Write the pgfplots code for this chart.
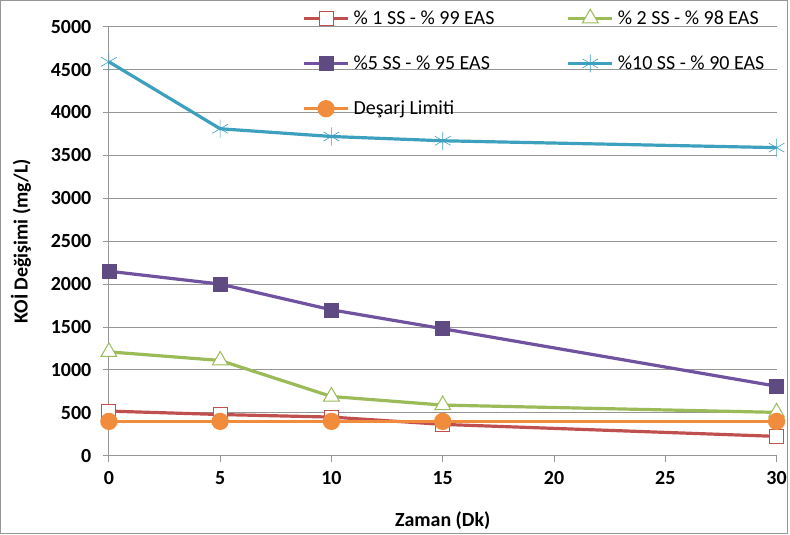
\documentclass[border=0pt]{standalone}
\usepackage{fontspec}
\setmainfont{Carlito}
\usepackage{pgfplots}
\pgfplotsset{compat=1.18}
\definecolor{cred}{RGB}{192,80,77}
\definecolor{cgreen}{RGB}{155,187,89}
\definecolor{cpurple}{RGB}{112,82,160}
\definecolor{cpurplem}{RGB}{96,74,130}
\definecolor{ccyan}{RGB}{60,160,190}
\definecolor{corange}{RGB}{240,140,60}
\definecolor{cgrid}{RGB}{150,150,150}
\begin{document}
\begin{tikzpicture}
\begin{axis}[
  scale only axis,
  width=666bp, height=428bp,
  xmin=0, xmax=30, ymin=0, ymax=5000,
  xtick={0,5,10,15,20,25,30},
  ytick={0,500,...,5000},
  axis x line*=bottom, axis y line*=left,
  axis line style={cgrid, line width=0.8pt},
  tick align=outside,
  major tick length=6bp,
  tick style={cgrid, line width=0.8pt},
  ymajorgrids, grid style={cgrid, line width=0.8pt},
  /pgf/number format/assume math mode=true,
  /pgf/number format/1000 sep={},
  ticklabel style={font=\fontsize{20}{24}\selectfont\bfseries},
  xticklabel style={yshift=-6bp},
  yticklabel style={xshift=-8bp},
  xlabel={\textbf{Zaman (Dk)}},
  ylabel={\textbf{KOİ Değişimi (mg/L)}},
  label style={font=\fontsize{20}{24}\selectfont},
  xlabel style={yshift=-20bp},
  ylabel style={yshift=13bp},
  clip=false,
  legend columns=2,
  legend cell align=left,
  legend style={draw=none, fill=none, at={(rel axis cs:0.285,1.047)}, anchor=north west,
    font=\fontsize{20}{24}\selectfont, row sep=26bp,
    /tikz/every odd column/.style={column sep=2bp},
    /tikz/column 2/.style={column sep=70bp}},
  legend image code/.code={
    \draw[mark repeat=2,mark phase=2] plot coordinates {(0bp,0bp) (22bp,0bp) (44bp,0bp)};
  },
]
\addplot[cred, line width=3.2pt, mark=square*, mark size=7bp, mark options={fill=white, draw=cred, line width=1pt}]
  coordinates {(0,520) (5,480) (10,450) (15,365) (30,225)};
\addlegendentry{\% 1 SS - \% 99 EAS}
\addplot[cgreen, line width=3.2pt, mark=triangle*, mark size=9bp, mark options={fill=white, draw=cgreen, line width=1pt}]
  coordinates {(0,1210) (5,1110) (10,690) (15,590) (30,505)};
\addlegendentry{\% 2 SS - \% 98 EAS}
\addplot[cpurple, line width=3.2pt, mark=square*, mark size=7bp, mark options={fill=cpurplem, draw=cpurplem, line width=0.6pt}]
  coordinates {(0,2150) (5,2000) (10,1700) (15,1480) (30,810)};
\addlegendentry{\%5 SS - \% 95 EAS}
\addplot[ccyan, line width=3.2pt, mark=asterisk, mark size=9bp, mark options={draw=ccyan, line width=0.6pt}]
  coordinates {(0,4590) (5,3810) (10,3720) (15,3670) (30,3590)};
\addlegendentry{\%10 SS - \% 90 EAS}
\addplot[corange, line width=3.2pt, mark=*, mark size=7bp, mark options={fill=corange, draw=corange}]
  coordinates {(0,400) (5,400) (10,400) (15,400) (30,400)};
\addlegendentry{Deşarj Limiti}
\draw[cgrid, line width=1.2pt] (rel axis cs:-0.1622,-0.1822) rectangle (rel axis cs:1.0165,1.0607);
\end{axis}
\end{tikzpicture}
\end{document}
